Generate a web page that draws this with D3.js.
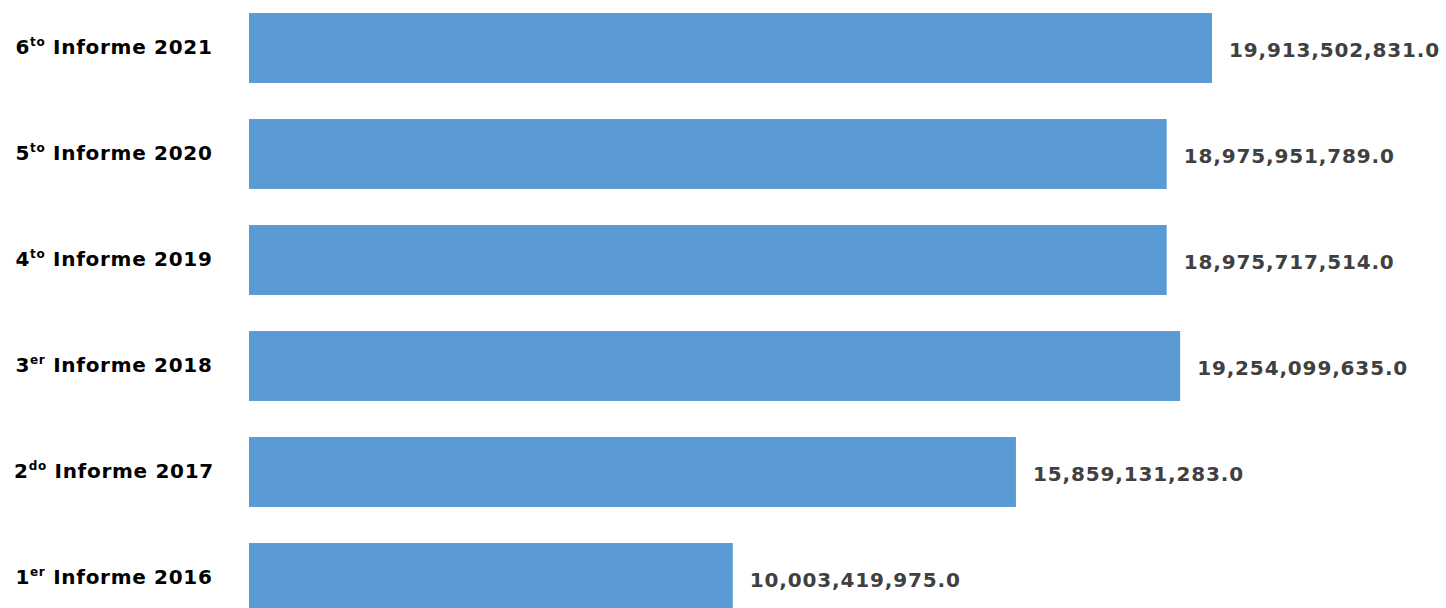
<!DOCTYPE html>
<html>
<head>
<meta charset="utf-8">
<script src="https://cdn.jsdelivr.net/npm/d3@7"></script>
<style>
  html, body { margin: 0; padding: 0; background: #fff; }
  svg { display: block; }
</style>
</head>
<body>
<svg id="chart" width="1446" height="608"></svg>
<script>
const ordinals = ["6", "5", "4", "3", "2", "1"];
const suffixes = ["to", "to", "to", "er", "do", "er"];
const years = ["2021", "2020", "2019", "2018", "2017", "2016"];
const values = [19913502831.0, 18975951789.0, 18975717514.0, 19254099635.0, 15859131283.0, 10003419975.0];

const svg = d3.select("#chart");
const keys = years;

const x = d3.scaleLinear().domain([0, 20e9]).range([249, 249 + 967.2]);
const y = d3.scaleBand().domain(keys).range([-5, 631]).paddingInner(0.34).paddingOuter(0.17);

const fmt = d3.format(",.1f");

svg.selectAll("rect.bar")
  .data(values)
  .join("rect")
  .attr("class", "bar")
  .attr("x", x(0))
  .attr("y", (d, i) => y(keys[i]))
  .attr("width", d => x(d) - x(0))
  .attr("height", y.bandwidth())
  .attr("fill", "#5B9BD5");

svg.selectAll("text.val")
  .data(values)
  .join("text")
  .attr("class", "val")
  .attr("x", d => x(d) + 17)
  .attr("y", (d, i) => y(keys[i]) + y.bandwidth() / 2 + 9)
  .attr("font-family", "'DejaVu Sans', Verdana, sans-serif")
  .attr("font-weight", "bold")
  .attr("font-size", 20)
  .attr("letter-spacing", 0.85)
  .attr("fill", "#404040")
  .text(d => fmt(d));

const cats = svg.selectAll("text.cat")
  .data(keys)
  .join("text")
  .attr("class", "cat")
  .attr("x", 114)
  .attr("y", d => y(d) + y.bandwidth() / 2 + 6)
  .attr("text-anchor", "middle")
  .attr("font-family", "'DejaVu Sans', Verdana, sans-serif")
  .attr("font-weight", "bold")
  .attr("font-size", 20)
  .attr("letter-spacing", 0.7)
  .attr("fill", "#000");

cats.each(function(d, i) {
  const t = d3.select(this);
  t.append("tspan").text(ordinals[i]);
  t.append("tspan").attr("font-size", 12).attr("dy", -8).text(suffixes[i]);
  t.append("tspan").attr("dy", 8).text(" Informe " + years[i]);
});
</script>
</body>
</html>
